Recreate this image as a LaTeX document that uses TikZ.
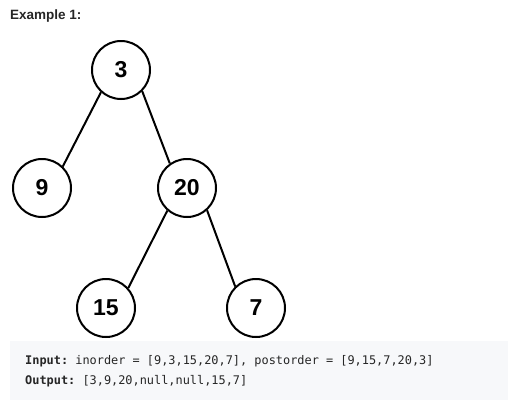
\documentclass[tikz,border=0pt]{standalone}
\usepackage{fontspec}
\setmainfont{Liberation Sans}
\setmonofont{DejaVu Sans Mono}
\definecolor{txt}{HTML}{262626}
\definecolor{codebg}{HTML}{F7F8FA}
\begin{document}
\begin{tikzpicture}[x=1pt,y=-1pt,
  tn/.style={circle,draw=black,line width=2pt,minimum size=58pt,inner sep=0pt,font=\fontsize{23}{23}\selectfont\bfseries},
  edge/.style={line width=2pt,black},
  code/.style={anchor=west,inner sep=0pt,text=txt,font=\fontsize{11.9}{14}\ttfamily}]
\useasboundingbox (0,0) rectangle (508,400);
\fill[codebg] (10,341) rectangle (508,400);
\node[anchor=west,inner sep=0pt,text=txt,font=\fontsize{13.5}{15}\selectfont\bfseries] (title) at (10,16) {Example 1:};
\node[tn] (n3) at (121,70) {3};
\node[tn] (n9) at (42,188) {9};
\node[tn] (n20) at (187,188) {20};
\node[tn] (n15) at (106,308) {15};
\node[tn] (n7) at (256,308) {7};
\draw[edge] (n3.228) -- (n9.46);
\draw[edge] (n3.315) -- (n20.125);
\draw[edge] (n20.229) -- (n15.42);
\draw[edge] (n20.312) -- (n7.134);
\node[code] (in) at (25,361) {\textbf{Input:} inorder = [9,3,15,20,7], postorder = [9,15,7,20,3]};
\node[code] (out) at (25,381) {\textbf{Output:} [3,9,20,null,null,15,7]};
\end{tikzpicture}
\end{document}
